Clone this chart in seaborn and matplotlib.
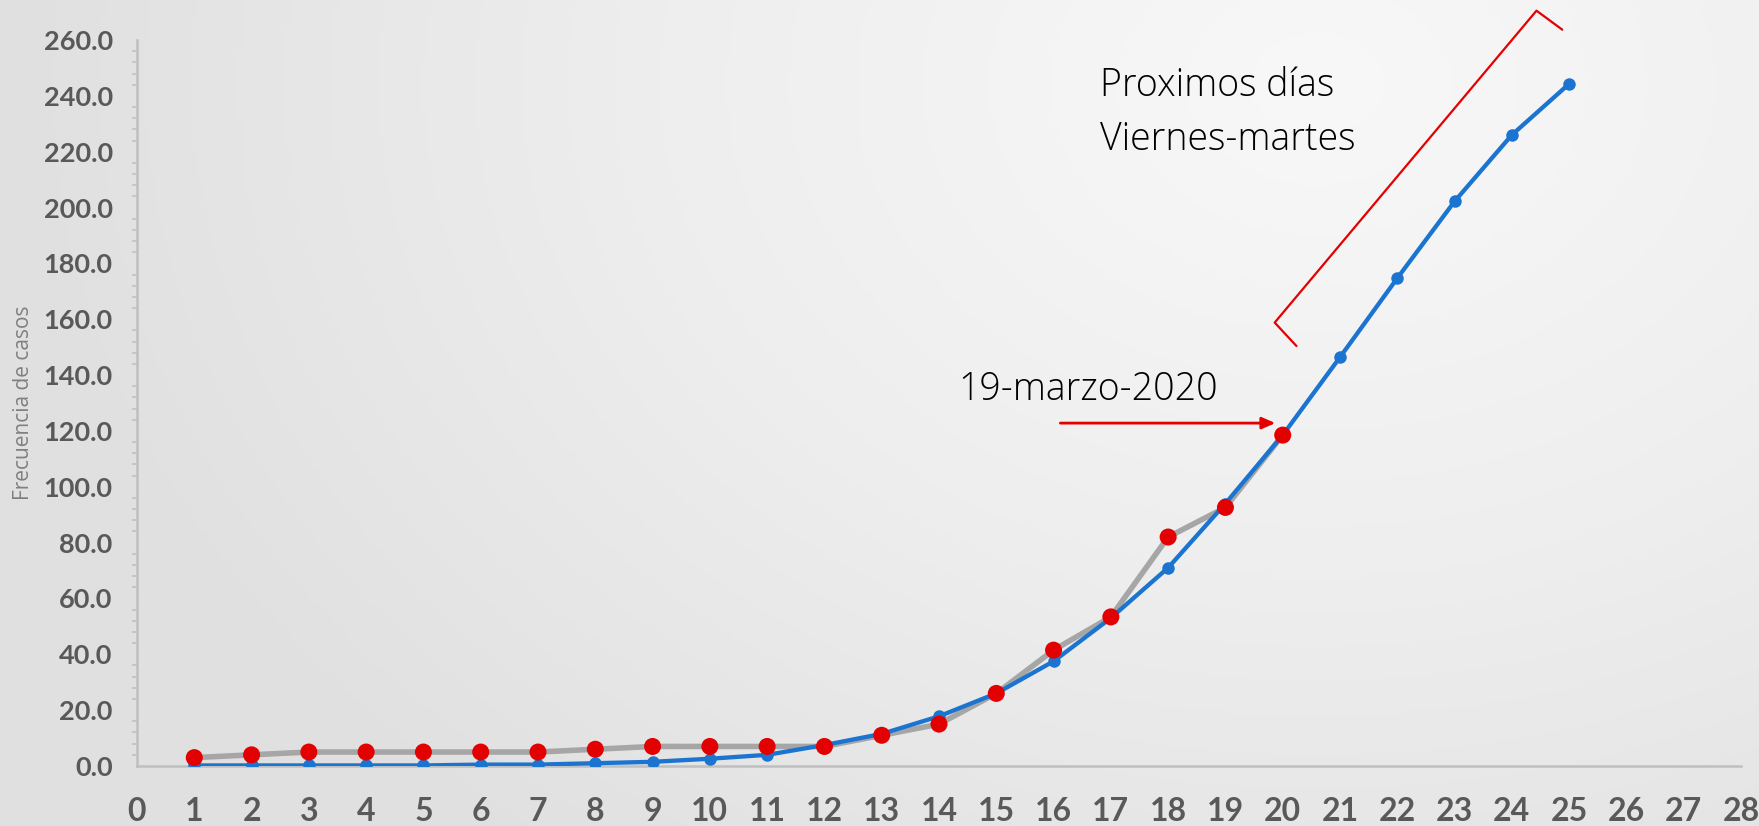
import numpy as np
import pandas as pd
import matplotlib
matplotlib.use('Agg')
import matplotlib.pyplot as plt
from matplotlib.colors import LinearSegmentedColormap
from matplotlib.ticker import MultipleLocator, FormatStrFormatter
import seaborn as sns

# datos
dias_modelo = list(range(1, 26))
modelo = [0.2, 0.2, 0.2, 0.2, 0.2, 0.5, 0.5, 1.0, 1.5, 2.6, 4.0, 7.5, 11.5,
          17.8, 26.0, 37.5, 53.0, 71.0, 94.0, 118.5, 146.4, 174.7, 202.2, 226.0, 244.3]
dias_real = list(range(1, 21))
real = [3, 4, 5, 5, 5, 5, 5, 6, 7, 7, 7, 7, 11, 15, 26, 41.5, 53.4, 82, 92.6, 118.5]

df_mod = pd.DataFrame({'dia': dias_modelo, 'casos': modelo})
df_real = pd.DataFrame({'dia': dias_real, 'casos': real})

sns.set_style('white')
plt.rcParams['font.family'] = ['Lato', 'DejaVu Sans']

azul = '#1b75d0'
rojo = '#e30000'
gris = '#a6a6a6'
eje = '#bfbfbf'
texto = '#595959'

fig = plt.figure(figsize=(17.59, 8.26), dpi=100)

# fondo con degradado suave
bg = fig.add_axes([0, 0, 1, 1], zorder=-10)
yy, xx = np.mgrid[0:1:200j, 0:1:400j]
r = np.sqrt(((xx - 0.75) * 1.6) ** 2 + ((yy - 0.1) * 1.0) ** 2)
cmap = LinearSegmentedColormap.from_list('fondo', ['#f9f8f9', '#efeeef', '#e0e0e0'])
bg.imshow(r, cmap=cmap, aspect='auto', extent=[0, 1, 0, 1], vmin=0, vmax=1.2)
bg.axis('off')

ax = fig.add_axes([137 / 1759, 1 - 766 / 826, (1741 - 137) / 1759, (766 - 40) / 826])
ax.set_facecolor('none')

sns.lineplot(data=df_real, x='dia', y='casos', ax=ax, color=gris, lw=4, zorder=2)
sns.lineplot(data=df_mod, x='dia', y='casos', ax=ax, color=azul, lw=3.1,
             marker='o', markersize=9, markeredgewidth=0, zorder=3)
sns.scatterplot(data=df_real, x='dia', y='casos', ax=ax, color=rojo, s=150,
                edgecolor='none', zorder=4)

ax.set_xlim(0, 28)
ax.set_ylim(0, 260)
ax.xaxis.set_major_locator(MultipleLocator(1))
ax.yaxis.set_major_locator(MultipleLocator(20))
ax.yaxis.set_minor_locator(MultipleLocator(4))
ax.yaxis.set_major_formatter(FormatStrFormatter('%.1f'))

for s in ['top', 'right']:
    ax.spines[s].set_visible(False)
for s in ['left', 'bottom']:
    ax.spines[s].set_color(eje)
    ax.spines[s].set_linewidth(1.8)

ax.tick_params(axis='x', which='major', direction='out', length=9, width=1.5,
               color=eje, pad=13, labelsize=23, labelcolor=texto)
ax.tick_params(axis='y', which='major', direction='out', length=6.5, width=1.3,
               color=eje, pad=11, labelsize=19.5, labelcolor=texto)
ax.tick_params(axis='y', which='minor', direction='out', length=3.5, width=1.1,
               color=eje, left=True)
for lab in ax.get_xticklabels() + ax.get_yticklabels():
    lab.set_fontweight('bold')

ax.set_xlabel('')
ax.set_ylabel('Frecuencia de casos', fontsize=15, color='#7f7f7f',
              family=['Open Sans', 'DejaVu Sans'])
ax.yaxis.set_label_coords(-0.064, 0.5)

# anotaciones
fuente = ['Open Sans', 'DejaVu Sans']
ax.text(16.81, 239.8, 'Proximos días', fontsize=27, color='black', va='baseline',
        family=fuente, fontweight='light')
ax.text(16.81, 220.7, 'Viernes-martes', fontsize=27, color='black', va='baseline',
        family=fuente, fontweight='light')
ax.text(14.34, 131.1, '19-marzo-2020', fontsize=27, color='black', va='baseline',
        family=fuente, fontweight='light')

ax.annotate('', xy=(19.92, 122.8), xytext=(16.07, 122.8),
            arrowprops=dict(arrowstyle='-|>,head_length=0.8,head_width=0.35',
                            color=rojo, lw=2))

# corchete de los proximos dias
bx = [20.24, 19.86, 24.43, 24.88]
by = [150.4, 158.8, 270.5, 263.7]
ax.plot(bx, by, color=rojo, lw=1.6, clip_on=False, zorder=5)

plt.savefig('out.png', dpi=100)
